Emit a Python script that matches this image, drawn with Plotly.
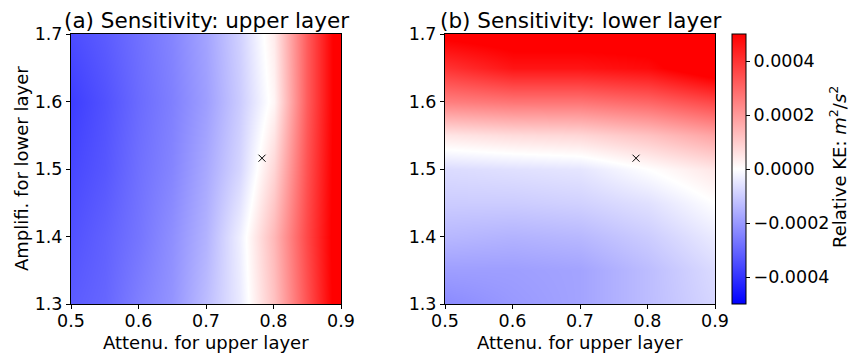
import plotly.graph_objects as go
import numpy as np

SCALE = 1e-4
# Panel (a): columns = attenuation (x), rows = amplification (y)
xa = [0.5, 0.55, 0.6, 0.65, 0.7, 0.75, 0.8, 0.85, 0.9]
ya = [1.3, 1.4, 1.5, 1.6, 1.7]
za = [
    [-3.2, -3.0, -2.5, -2.1, -1.3, -0.4, 1.2, 3.4, 5.6],   # 1.3
    [-3.4, -3.1, -2.7, -2.2, -1.5, -0.3, 1.4, 3.6, 5.6],   # 1.4
    [-3.6, -3.3, -2.8, -2.4, -1.7, -0.8, 0.8, 3.4, 5.6],   # 1.5
    [-3.8, -3.4, -2.9, -2.5, -1.9, -1.0, 0.2, 3.2, 5.6],   # 1.6
    [-3.5, -3.2, -2.8, -2.4, -1.8, -0.9, 0.4, 3.2, 5.6],   # 1.7
]

# Panel (b)
xb = [0.5, 0.6, 0.7, 0.8, 0.9]
yb = [1.3, 1.35, 1.4, 1.45, 1.5, 1.55, 1.6, 1.65, 1.7]
zb = [
    [-2.3, -2.0, -1.8, -1.3, -0.8],   # 1.3
    [-1.9, -1.9, -1.8, -1.3, -0.7],   # 1.35
    [-1.4, -1.5, -1.4, -1.0, -0.4],   # 1.4
    [-1.0, -1.0, -0.9, -0.6, 0.0],    # 1.45
    [-0.7, -0.6, -0.5, 0.0, 0.5],     # 1.5
    [0.5, 0.7, 0.8, 1.2, 1.8],        # 1.55
    [2.5, 2.7, 2.7, 3.0, 3.6],        # 1.6
    [4.0, 4.6, 4.6, 4.8, 5.6],        # 1.65
    [5.2, 5.4, 5.4, 5.4, 5.6],        # 1.7
]

marker_x = [0.783]
marker_y = [1.516]

titles = ["(a) Sensitivity: upper layer", "(b) Sensitivity: lower layer"]
xlabel = "Attenu. for upper layer"
ylabel = "Amplifi. for lower layer"
cbar_title = "Relative KE: <i>m</i><sup>2</sup>/<i>s</i><sup>2</sup>"
cbar_ticks = [-0.0004, -0.0002, 0.0, 0.0002, 0.0004]

FONT = "DejaVu Sans"
FS_TICK = 17.5
FS_LABEL = 18
FS_TITLE = 21.5
bwr = [[0, "rgb(0,0,255)"], [0.5, "rgb(255,255,255)"], [1, "rgb(255,0,0)"]]

fig = go.Figure()
fig.add_trace(go.Heatmap(x=xa, y=ya, z=(np.array(za) * SCALE).tolist(),
                         coloraxis="coloraxis", zsmooth="best",
                         xaxis="x", yaxis="y"))
fig.add_trace(go.Heatmap(x=xb, y=yb, z=(np.array(zb) * SCALE).tolist(),
                         coloraxis="coloraxis", zsmooth="best",
                         xaxis="x2", yaxis="y2"))
for xa_, ya_ in (("x", "y"), ("x2", "y2")):
    fig.add_trace(go.Scatter(x=marker_x, y=marker_y, mode="markers",
                             marker=dict(symbol="x-thin", size=7, color="black",
                                         line=dict(width=1, color="black")),
                             xaxis=xa_, yaxis=ya_, showlegend=False))

W, H = 860, 354
L, R, T, B = 71, 715, 34, 304
pw, ph = R - L, B - T
d1 = [0, 270 / pw]
d2 = [374 / pw, 1]

axis_common = dict(showline=True, mirror=True, linecolor="black", linewidth=1,
                   ticks="outside", ticklen=4, tickwidth=1, tickcolor="black",
                   showgrid=False, zeroline=False, automargin=False,
                   tickfont=dict(family=FONT, size=FS_TICK, color="black"))

fig.update_layout(
    width=W, height=H,
    margin=dict(l=L, r=W - R, t=T, b=H - B, autoexpand=False),
    paper_bgcolor="white", plot_bgcolor="white",
    font=dict(family=FONT, color="black"),
    showlegend=False,
    coloraxis=dict(
        colorscale=bwr, cmin=-0.0005, cmax=0.0005,
        colorbar=dict(
            x=(732 - L) / pw, xanchor="left", xpad=0, ypad=0,
            y=0.5, yanchor="middle",
            len=1, lenmode="fraction", thickness=14,
            outlinewidth=1, outlinecolor="black",
            tickvals=cbar_ticks, tickformat=".4f",
            ticks="outside", ticklen=4, tickcolor="black",
            tickfont=dict(family=FONT, size=FS_TICK, color="black"),
        ),
    ),
    xaxis=dict(domain=d1, anchor="y", range=[0.5, 0.9], ticklabelstandoff=-3,
               tickvals=[0.5, 0.6, 0.7, 0.8, 0.9], **axis_common),
    yaxis=dict(domain=[0, 1], anchor="x", range=[1.3, 1.7],
               tickvals=[1.3, 1.4, 1.5, 1.6, 1.7], **axis_common),
    xaxis2=dict(domain=d2, anchor="y2", range=[0.5, 0.9], ticklabelstandoff=-3,
                tickvals=[0.5, 0.6, 0.7, 0.8, 0.9], **axis_common),
    yaxis2=dict(domain=[0, 1], anchor="x2", range=[1.3, 1.7],
                tickvals=[1.3, 1.4, 1.5, 1.6, 1.7], **axis_common),
)

def ann(text, x, y, size=FS_LABEL, angle=0, xanchor="center", yanchor="middle"):
    fig.add_annotation(text=text, xref="paper", yref="paper", x=x, y=y,
                       xanchor=xanchor, yanchor=yanchor, showarrow=False,
                       textangle=angle,
                       font=dict(family=FONT, size=size, color="black"))

for i, dom in enumerate((d1, d2)):
    cx = (dom[0] + dom[1]) / 2
    ann(titles[i], cx, (B - 20) / ph, size=FS_TITLE)
    ann(xlabel, cx, (B - 342) / ph)
ann(ylabel, (21 - L) / pw, (B - 169) / ph, angle=-90)
ann(cbar_title, (838 - L) / pw, (B - 167) / ph, angle=-90)

fig.write_html("out.html")
